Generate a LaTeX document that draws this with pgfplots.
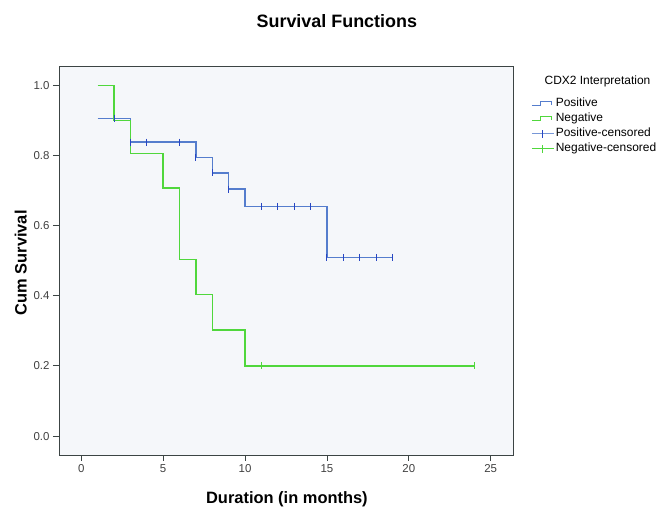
\documentclass[border=0pt]{standalone}
\usepackage{pgfplots}
\pgfplotsset{compat=1.18}
\usepackage{fontspec}
\setmainfont{Liberation Sans}
\definecolor{bgcol}{RGB}{245,247,250}
\definecolor{axcol}{RGB}{60,68,68}
\definecolor{posline}{RGB}{85,125,205}
\definecolor{posmark}{RGB}{40,70,195}
\definecolor{negline}{RGB}{80,215,60}
\begin{document}
\begin{tikzpicture}
\path[use as bounding box] (0,0) rectangle (668bp,517bp);
\begin{axis}[
  at={(59bp,62bp)}, anchor=south west,
  scale only axis, width=454bp, height=388bp,
  xmin=-1.36, xmax=26.36, ymin=-0.054, ymax=1.052,
  xtick={0,5,10,15,20,25},
  ytick={0,0.2,0.4,0.6,0.8,1.0},
  yticklabel style={/pgf/number format/.cd,fixed,fixed zerofill,precision=1},
  /pgf/number format/assume math mode=true,
  tick label style={font=\fontsize{11.5}{13}\selectfont, text=black!75},
  tick align=outside, xtick pos=bottom, ytick pos=left,
  major tick length=6bp, tick style={axcol, line width=0.8bp},
  axis line style={axcol, line width=1bp},
  axis background/.style={fill=bgcol},
  title={\textbf{Survival Functions}},
  title style={at={(axis description cs:0.612,1.104)}, anchor=center, font=\fontsize{18}{21}\selectfont},
  xlabel={\textbf{Duration (in months)}},
  xlabel style={at={(axis description cs:0.502,-0.113)}, anchor=center, font=\fontsize{16.5}{19}\selectfont},
  ylabel={\textbf{Cum Survival}},
  ylabel style={at={(axis description cs:-0.084,0.495)}, anchor=center, rotate=0, font=\fontsize{16.5}{19}\selectfont},
  legend style={at={(axis description cs:1.04,0.925)}, anchor=north west, draw=none, fill=none,
    inner sep=0pt, font=\fontsize{12}{14}\selectfont,
    nodes={inner xsep=1.5bp, inner ysep=1.5bp, text height=9bp, text depth=3bp}},
  legend cell align=left,
  clip=false,
]
% legend title
\node[anchor=west, font=\fontsize{12}{14}\selectfont] at (axis description cs:1.062,0.964) {CDX2 Interpretation};

% Positive step curve
\addplot[const plot, posline, line width=1.4bp, mark=none,
  legend image code/.code={\draw[posline,line width=1bp] (0bp,-2bp)--(9bp,-2bp)--(9bp,2bp)--(20bp,2bp)--(20bp,-1bp);}]
  coordinates {(1,0.906) (3,0.838) (7,0.794) (8,0.750) (9,0.704) (10,0.655) (15,0.509) (19,0.509)};
\addlegendentry{Positive}
% Negative step curve
\addplot[const plot, negline, line width=1.4bp, mark=none,
  legend image code/.code={\draw[negline,line width=1bp] (0bp,-2bp)--(9bp,-2bp)--(9bp,2bp)--(20bp,2bp)--(20bp,-1bp);}]
  coordinates {(1,1.0) (2,0.9) (3,0.806) (5,0.707) (6,0.503) (7,0.404) (8,0.302) (10,0.2) (24,0.2)};
\addlegendentry{Negative}
% Positive censored
\addplot[only marks, mark=|, mark size=3.5bp, mark options={posmark, line width=1bp},
  legend image code/.code={\draw[posline!80,line width=1bp] (0bp,0bp)--(22bp,0bp); \draw[posmark,line width=1bp] (11bp,-4bp)--(11bp,4bp);}]
  coordinates {(2,0.906) (3,0.838) (4,0.838) (6,0.838) (7,0.794) (8,0.750) (9,0.704)
    (11,0.655) (12,0.655) (13,0.655) (14,0.655)
    (15,0.509) (16,0.509) (17,0.509) (17,0.509) (18,0.509) (19,0.509)};
\addlegendentry{Positive-censored}
% Negative censored
\addplot[only marks, mark=|, mark size=3.5bp, mark options={negline, line width=1bp},
  legend image code/.code={\draw[negline,line width=1bp] (0bp,0bp)--(22bp,0bp); \draw[negline,line width=1bp] (11bp,-4bp)--(11bp,4bp);}]
  coordinates {(11,0.2) (24,0.2)};
\addlegendentry{Negative-censored}
\end{axis}
\end{tikzpicture}
\end{document}
